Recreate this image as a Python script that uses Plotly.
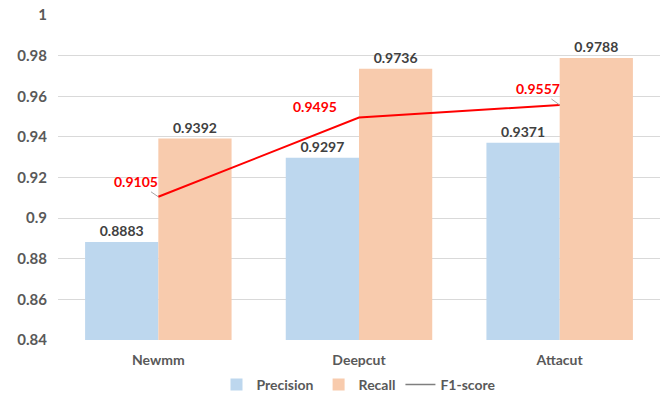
import plotly.graph_objects as go

# Segmentation results per tokenizer
models = ["Newmm", "Deepcut", "Attacut"]
precision = [0.8883, 0.9297, 0.9371]
recall = [0.9392, 0.9736, 0.9788]
f1_score = [0.9105, 0.9495, 0.9557]

# pixel offsets of the F1 callouts relative to their points
f1_label_dx = [-22, -44, -22]
f1_label_dy = [-15, -11, -16]
f1_leader = [True, False, True]

FONT = "Lato"
TXT = "#595959"

fig = go.Figure()
fig.add_trace(go.Bar(
    x=models, y=precision, name="Precision",
    marker=dict(color="#BDD7EE", line=dict(width=0)),
    text=[f"{v:.4f}" for v in precision], textposition="outside",
    textfont=dict(family=FONT, size=14, color="#404040", weight="bold"),
    cliponaxis=False,
))
fig.add_trace(go.Bar(
    x=models, y=recall, name="Recall",
    marker=dict(color="#F8CBAD", line=dict(width=0)),
    text=[f"{v:.4f}" for v in recall], textposition="outside",
    textfont=dict(family=FONT, size=14, color="#404040", weight="bold"),
    cliponaxis=False,
))
fig.add_trace(go.Scatter(
    x=models, y=f1_score, mode="lines", name="F1-score",
    line=dict(color="#FF0000", width=2), showlegend=False,
))
# legend entry for the F1 line
fig.add_trace(go.Scatter(
    x=[None], y=[None], mode="lines", name="F1-score",
    line=dict(color="#7F7F7F", width=1.5),
))

for m, v, dx, dy, lead in zip(models, f1_score, f1_label_dx, f1_label_dy, f1_leader):
    fig.add_annotation(
        x=m, y=v, text=f"<b>{v:.4f}</b>",
        showarrow=True, arrowhead=0, arrowwidth=1,
        arrowcolor="#A6A6A6" if lead else "rgba(0,0,0,0)",
        ax=dx, ay=dy,
        font=dict(family=FONT, size=14, color="#FF0000"),
    )

fig.update_layout(
    width=666, height=395,
    margin=dict(l=58, r=6, t=15, b=55, autoexpand=False),
    plot_bgcolor="white", paper_bgcolor="white",
    barmode="group", bargap=0.27, bargroupgap=0,
    font=dict(family=FONT, color=TXT),
    legend=dict(
        orientation="h", x=0.5, xanchor="center", y=-0.138, yanchor="middle",
        font=dict(family=FONT, size=14, color=TXT, weight="bold"),
        itemwidth=30, traceorder="normal",
    ),
)
fig.update_yaxes(
    range=[0.84, 1.0], dtick=0.02, tickformat="~g",
    showgrid=True, gridcolor="#D9D9D9", gridwidth=1,
    zeroline=False, showline=False, ticks="",
    tickfont=dict(family=FONT, size=15, color=TXT, weight="bold"),
    ticklabelstandoff=10,
)
fig.update_xaxes(
    showline=False, ticks="", showgrid=False,
    tickfont=dict(family=FONT, size=14, color=TXT, weight="bold"),
    ticklabelstandoff=10,
)

fig.write_html("out.html")
